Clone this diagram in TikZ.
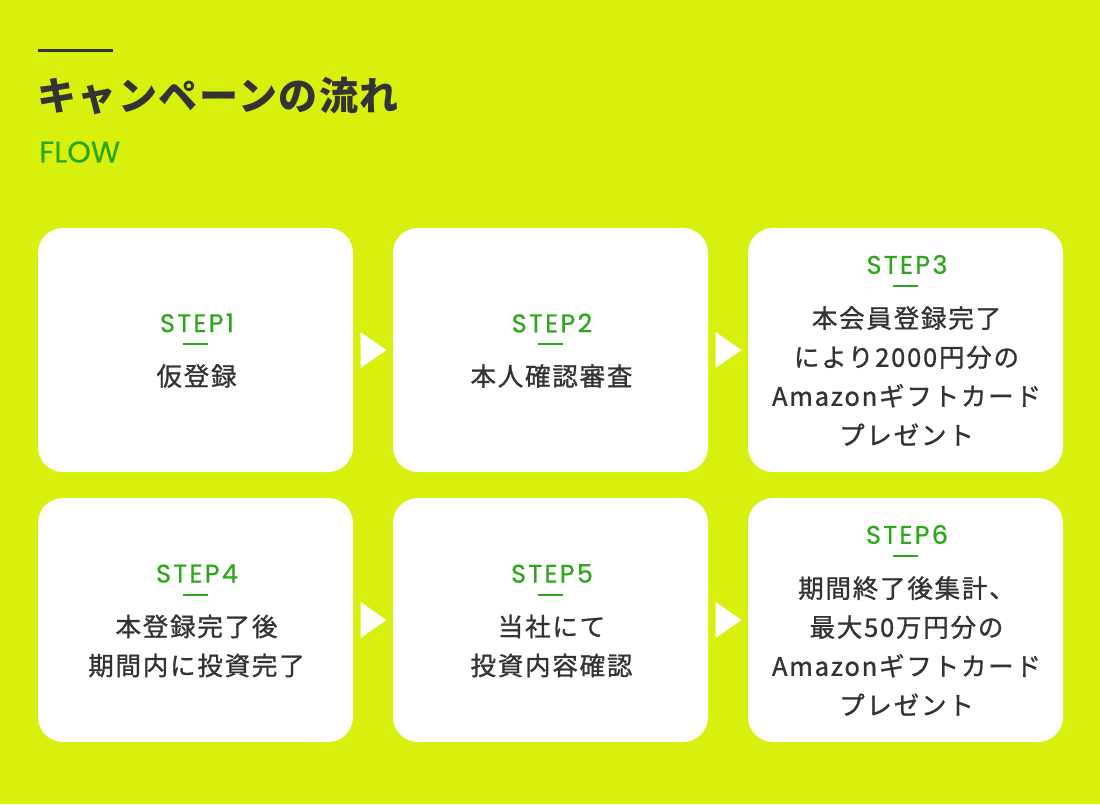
\documentclass[tikz,border=0pt]{standalone}
\usepackage{fontspec}
\setmainfont{Noto Sans CJK JP}
\newfontfamily\jpbody{Noto Sans CJK JP}[LetterSpace=7,FakeBold=1]
\newfontfamily\jptitle{Noto Sans CJK JP}[LetterSpace=4]
\newfontfamily\latstep{Poppins}[LetterSpace=9,FakeBold=0.6]
\newfontfamily\latflow{Poppins}[FakeBold=0.4]
\usetikzlibrary{calc}
\definecolor{bg}{HTML}{D7F00E}
\definecolor{grn}{HTML}{2CA71A}
\definecolor{ink}{HTML}{333333}
\tikzset{
  card/.style={fill=white, draw=none, rounded corners=25pt, minimum width=315pt, minimum height=244pt, inner sep=0pt},
  steplbl/.style={inner sep=0pt, text=grn, font=\latstep\fontsize{25.5}{25.5}\selectfont},
  bodytext/.style={inner sep=0pt, text=ink, align=center, font=\jpbody\fontsize{25.5}{39}\selectfont},
  stepdash/.style={draw=grn, line width=2pt},
  tri/.style={fill=white},
}
\newcommand\flowcard[6]{%
  \node[card] (#1) at (#2,#3) {};
  \pgfmathsetmacro\stepy{#3-27-19.5*(#5-1)}
  \node[steplbl] (#1s) at (#2+1.5,\stepy) {STEP#4};
  \coordinate (#1d) at (#2,\stepy+21);
  \draw[stepdash] ($(#1d)+(-12.5,0)$) -- ($(#1d)+(12.5,0)$);
  \node[bodytext] (#1t) at (#2+1,#3+26) {#6};
}
\newcommand\flowarrow[3]{%
  \coordinate (#1) at ($(#2.east)!0.5!(#3.west)$);
  \fill[tri] ($(#1)+(-12.5,-18)$) -- ($(#1)+(13.5,0)$) -- ($(#1)+(-12.5,18)$) -- cycle;
}
\begin{document}
\begin{tikzpicture}[x=1pt,y=-1pt]
\fill[bg] (0,0) rectangle (1100,804);
\useasboundingbox (0,0) rectangle (1100,804);
% heading
\node[anchor=west, inner sep=0pt, text=ink, font=\jptitle\bfseries\fontsize{39}{39}\selectfont] (title) at (37,96) {キャンペーンの流れ};
\coordinate (rule) at (38,50);
\draw[ink, line width=3pt] (rule) -- ++(75,0);
\node[anchor=west, inner sep=0pt, text=grn, font=\latflow\fontsize{30}{30}\selectfont] (flow) at (39,152) {FLOW};
% cards
\flowcard{b1}{195.5}{350}{1}{1}{仮登録}
\flowcard{b2}{550.5}{350}{2}{1}{本人確認審査}
\flowcard{b3}{905.5}{350}{3}{4}{本会員登録完了\\により2000円分の\\Amazonギフトカード\\プレゼント}
\flowcard{b4}{195.5}{620}{4}{2}{本登録完了後\\期間内に投資完了}
\flowcard{b5}{550.5}{620}{5}{2}{当社にて\\投資内容確認}
\flowcard{b6}{905.5}{620}{6}{4}{期間終了後集計、\\最大50万円分の\\Amazonギフトカード\\プレゼント}
% arrows
\flowarrow{a1}{b1}{b2}
\flowarrow{a2}{b2}{b3}
\flowarrow{a4}{b4}{b5}
\flowarrow{a5}{b5}{b6}
\end{tikzpicture}
\end{document}
